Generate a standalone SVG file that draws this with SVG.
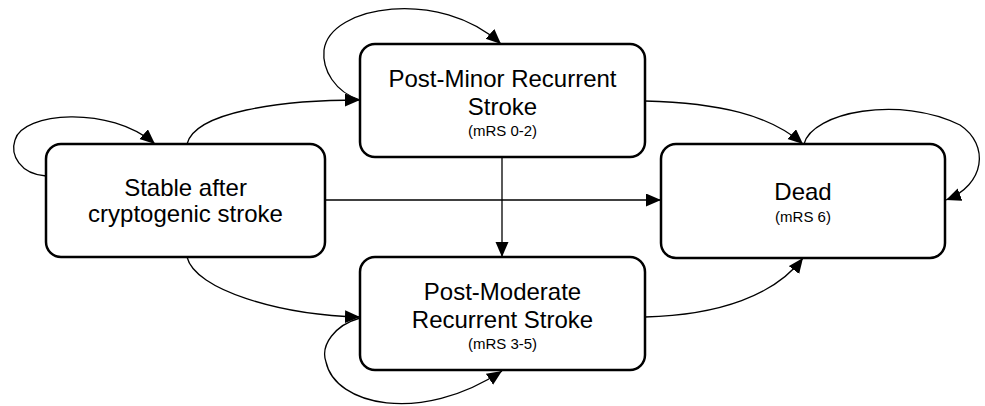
<svg xmlns="http://www.w3.org/2000/svg" width="985" height="406" viewBox="0 0 985 406">
<style>
.box{fill:#fff;stroke:#000;stroke-width:2.5}
.t{font-family:"Liberation Sans",Arial,sans-serif;font-size:24px;fill:#000;text-anchor:middle}
.s{font-family:"Liberation Sans",Arial,sans-serif;font-size:15px;fill:#000;text-anchor:middle}
.c{fill:none;stroke:#000;stroke-width:1.3;marker-end:url(#ah)}
</style>
<defs>
<marker id="ah" markerUnits="userSpaceOnUse" markerWidth="16" markerHeight="14" refX="15" refY="6.5" orient="auto">
<path d="M0,0 L15,6.5 L0,13 z" fill="#000"/>
</marker>
</defs>
<g id="connectors">
<path class="c" d="M46,176 C20,174 10,155 15,140 C22,112 110,105 155,144"/>
<path class="c" d="M187,144 C195,112 280,100 360,100"/>
<path class="c" d="M360,100 C335,92 322,70 324,50 C330,5 440,-12 501,44"/>
<path class="c" d="M645,101 C720,103 770,115 803,144"/>
<path class="c" d="M804,144 C812,112 900,95 960,125 C990,145 985,185 946,200"/>
<path class="c" d="M325,200 L661,200"/>
<path class="c" d="M502,157 L502,257"/>
<path class="c" d="M187,257 C195,290 280,315 360,317"/>
<path class="c" d="M360,318 C335,325 320,345 326,362 C335,405 420,425 502,371"/>
<path class="c" d="M645,317 C720,315 775,295 803,258"/>
</g>
<g id="stable">
<rect class="box" x="46" y="144" width="279" height="113" rx="15"/>
<text class="t" x="185.5" y="196">Stable after</text>
<text class="t" x="185.5" y="222">cryptogenic stroke</text>
</g>
<g id="minor">
<rect class="box" x="360" y="44" width="285" height="113" rx="15"/>
<text class="t" x="502.5" y="87">Post-Minor Recurrent</text>
<text class="t" x="502.5" y="114.5">Stroke</text>
<text class="s" x="502.5" y="136">(mRS 0-2)</text>
</g>
<g id="dead">
<rect class="box" x="661" y="144" width="284" height="114" rx="15"/>
<text class="t" x="803" y="200">Dead</text>
<text class="s" x="803" y="222">(mRS 6)</text>
</g>
<g id="moderate">
<rect class="box" x="360" y="257" width="285" height="113" rx="15"/>
<text class="t" x="502.5" y="300">Post-Moderate</text>
<text class="t" x="502.5" y="327.5">Recurrent Stroke</text>
<text class="s" x="502.5" y="349">(mRS 3-5)</text>
</g>
</svg>
